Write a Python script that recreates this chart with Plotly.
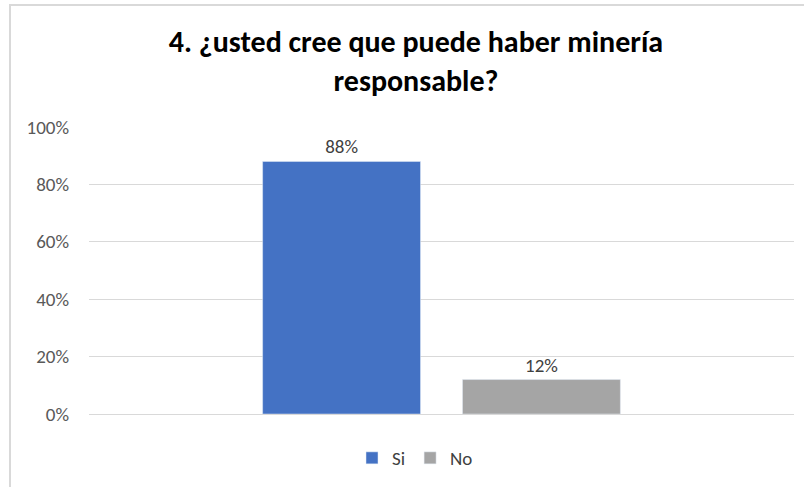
import plotly.graph_objects as go

categories = [""]
series_names = ["Si", "No"]
series_values = [[0.88], [0.12]]
series_colors = ["#4472C4", "#A5A5A5"]
y_ticks = [0, 0.2, 0.4, 0.6, 0.8, 1.0]
title_text = "<b>4. ¿usted cree que puede haber minería<br>responsable?</b>"

FONT = "Carlito, Lato, sans-serif"
W, H = 804, 487
ML, MR, MT, MB = 89, 10, 127, 73
PW, PH = W - ML - MR, H - MT - MB

fig = go.Figure()
for name, vals, col in zip(series_names, series_values, series_colors):
    fig.add_trace(go.Bar(
        x=categories, y=vals, name=name, marker_color=col,
        text=[f"{v:.0%}" for v in vals], textposition="outside",
        textfont=dict(family=FONT, size=19, color="#404040"),
        cliponaxis=False,
    ))

def px_x(p):
    return (p - ML) / PW

def px_y(p):
    return (H - MB - p) / PH

fig.update_layout(
    width=W, height=H,
    margin=dict(l=ML, r=MR, t=MT, b=MB),
    paper_bgcolor="white", plot_bgcolor="white",
    barmode="group", bargap=0.433, bargroupgap=0.21,
    font=dict(family=FONT, size=19, color="#595959"),
    title=dict(text=title_text, x=416 / W, xref="container", xanchor="center",
               y=1 - 52 / H, yref="container", yanchor="middle",
               font=dict(family=FONT, size=30, color="#000000")),
    showlegend=True,
    legend=dict(orientation="h", xref="container", x=415 / W, xanchor="center",
                yref="container", y=1 - 458 / H, yanchor="middle",
                font=dict(family=FONT, size=19, color="#404040"),
                itemwidth=30, tracegroupgap=0),
    xaxis=dict(showticklabels=False, showgrid=False, zeroline=False, showline=False),
    yaxis=dict(range=[0, 1], tickvals=y_ticks, tickformat=".0%",
               showgrid=True, gridcolor="#D9D9D9", gridwidth=1,
               zeroline=True, zerolinecolor="#D9D9D9", zerolinewidth=1,
               showline=False, ticks="", ticklabelstandoff=19,
               tickfont=dict(family=FONT, size=19, color="#595959")),
    shapes=[dict(type="rect", xref="paper", yref="paper",
                 x0=px_x(10), x1=px_x(812), y0=px_y(5), y1=px_y(495),
                 line=dict(color="#D9D9D9", width=2), fillcolor="rgba(0,0,0,0)",
                 layer="below")],
)

fig.write_html(
    "out.html",
    config={"displayModeBar": False},
    post_script="document.body.style.margin='0';document.body.style.overflow='hidden';",
)
